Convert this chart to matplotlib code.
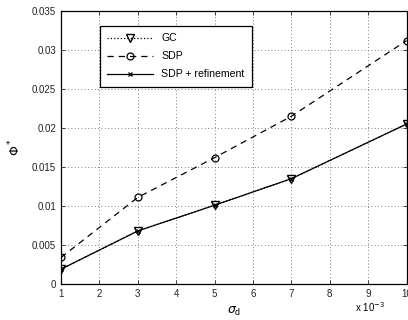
import numpy as np
import matplotlib
matplotlib.use("Agg")
import matplotlib.pyplot as plt

plt.rcParams["font.family"] = ["Liberation Sans", "DejaVu Sans"]

sigma_d = [1, 3, 5, 7, 10]
gc = [0.0019, 0.0068, 0.0101, 0.0135, 0.0205]
sdp = [0.0034, 0.0111, 0.0162, 0.0215, 0.0312]
sdp_refined = [0.0019, 0.0068, 0.0101, 0.0135, 0.0205]

fig = plt.figure(figsize=(4.08, 3.2), dpi=100)
ax = fig.add_axes([61 / 408, 1 - 284 / 320, 345.5 / 408, 273 / 320])

ax.plot(sigma_d, gc, linestyle=":", color="black", lw=0.9, marker="v",
        markersize=5.5, markerfacecolor="none", markeredgewidth=1.0, label="GC")
ax.plot(sigma_d, sdp, linestyle=(0, (5, 4)), color="black", lw=0.9, marker="o",
        markersize=5, markerfacecolor="none", markeredgewidth=0.9, label="SDP")
ax.plot(sigma_d, sdp_refined, linestyle="-", color="black", lw=0.9, marker="x",
        markersize=3, markeredgewidth=0.9, label="SDP + refinement")

ax.set_xlim(1, 10)
ax.set_ylim(0, 0.035)
ax.set_xticks(range(1, 11))
ax.set_xticklabels([str(i) for i in range(1, 11)])
ax.set_yticks(np.arange(0, 0.0351, 0.005))
ax.set_yticklabels(["0", "0.005", "0.01", "0.015", "0.02", "0.025", "0.03", "0.035"])
ax.tick_params(direction="in", labelsize=7, length=3, width=0.6, colors="#222222",
               top=True, right=True)
ax.grid(True, linestyle=(0, (1, 3)), color="#555555", lw=0.6)
for s in ax.spines.values():
    s.set_linewidth(0.9)

ax.set_xlabel(r"$\sigma_\mathregular{d}$", fontsize=9, labelpad=4)
ax.set_ylabel(r"$\Phi^*$", fontsize=9, labelpad=6)
fig.text(355 / 408, 1 - 307 / 320, r"x 10$^{-3}$", fontsize=7, va="center")

leg = ax.legend(loc="upper left", bbox_to_anchor=(39 / 345.5, 1 - 15 / 273),
                borderaxespad=0, fontsize=7.6, fancybox=False, edgecolor="black",
                framealpha=1, handlelength=4.3, borderpad=0.7, labelspacing=0.75)
leg.get_frame().set_linewidth(0.9)

fig.savefig("out.png", dpi=100)
